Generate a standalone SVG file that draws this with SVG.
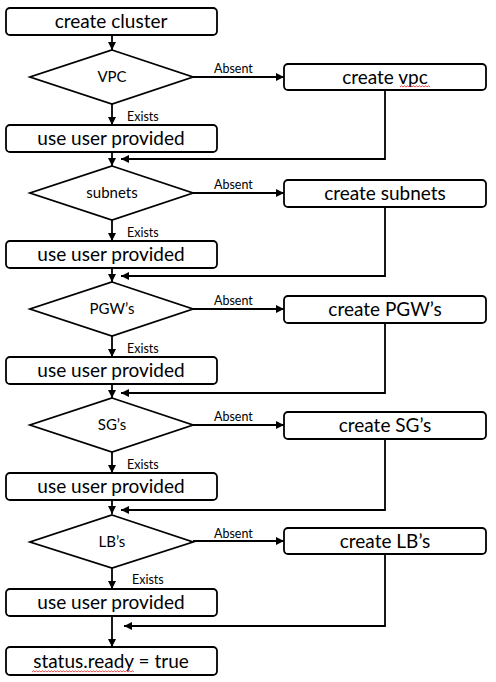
<svg xmlns="http://www.w3.org/2000/svg" width="496" height="682" viewBox="0 0 496 682">
<style>
.box{fill:#fff;stroke:#000;stroke-width:1.8}
.ln{fill:none;stroke:#000;stroke-width:1.8}
.t{font-family:Lato,"Open Sans",sans-serif;font-size:19px;fill:#000;text-anchor:middle}
.d{font-family:Lato,"Open Sans",sans-serif;font-size:15px;fill:#000;text-anchor:middle}
.s{font-family:Lato,"Open Sans",sans-serif;font-size:12.5px;fill:#000}
.sq{fill:none;stroke:#e02020;stroke-width:0.8}
</style>
<defs>
<marker id="ah" viewBox="0 0 10 10" refX="10" refY="5" markerWidth="9" markerHeight="8" markerUnits="userSpaceOnUse" orient="auto">
<path d="M0,0 L10,5 L0,10 Z" fill="#000"/>
</marker>
</defs>
<g id="connectors">
<path class="ln" d="M112,35 V50" marker-end="url(#ah)"/>
<g id="c0">
<path class="ln" d="M193,77 H284" marker-end="url(#ah)"/>
<path class="ln" d="M112,104 V125" marker-end="url(#ah)"/>
<path class="ln" d="M385,90 V159 H121" marker-end="url(#ah)"/>
<path class="ln" d="M112,152 V166" marker-end="url(#ah)"/>
</g>
<g transform="translate(0,116)">
<path class="ln" d="M193,77 H284" marker-end="url(#ah)"/>
<path class="ln" d="M112,104 V125" marker-end="url(#ah)"/>
<path class="ln" d="M385,90 V160 H121" marker-end="url(#ah)"/>
<path class="ln" d="M112,152 V166" marker-end="url(#ah)"/>
</g>
<g transform="translate(0,232)">
<path class="ln" d="M193,77 H284" marker-end="url(#ah)"/>
<path class="ln" d="M112,104 V125" marker-end="url(#ah)"/>
<path class="ln" d="M385,90 V161 H121" marker-end="url(#ah)"/>
<path class="ln" d="M112,152 V166" marker-end="url(#ah)"/>
</g>
<g transform="translate(0,348)">
<path class="ln" d="M193,77 H284" marker-end="url(#ah)"/>
<path class="ln" d="M112,104 V125" marker-end="url(#ah)"/>
<path class="ln" d="M385,90 V162 H121" marker-end="url(#ah)"/>
<path class="ln" d="M112,152 V166" marker-end="url(#ah)"/>
</g>
<g transform="translate(0,464)">
<path class="ln" d="M193,77 H284" marker-end="url(#ah)"/>
<path class="ln" d="M112,104 V125" marker-end="url(#ah)"/>
<path class="ln" d="M385,90 V162 H124" marker-end="url(#ah)"/>
<path class="ln" d="M112,152 V183" marker-end="url(#ah)"/>
</g>
<g id="edge-labels">
<text class="s" x="214" y="73">Absent</text>
<text class="s" x="127" y="121">Exists</text>
<text class="s" x="214" y="189">Absent</text>
<text class="s" x="127" y="237">Exists</text>
<text class="s" x="214" y="305">Absent</text>
<text class="s" x="127" y="353">Exists</text>
<text class="s" x="214" y="421">Absent</text>
<text class="s" x="127" y="469">Exists</text>
<text class="s" x="214" y="538">Absent</text>
<text class="s" x="132" y="584">Exists</text>
</g>
</g>
<g id="start">
<rect class="box" x="6" y="8" width="211" height="27" rx="4"/>
<text class="t" x="111" y="28">create cluster</text>
</g>
<g id="vpc">
<polygon class="box" points="112,50 193,77 112,104 30,77"/>
<text class="d" x="112" y="82">VPC</text>
</g>
<g id="create-vpc">
<rect class="box" x="284" y="64" width="202" height="26" rx="4"/>
<text class="t" x="385" y="84">create vpc</text>
</g>
<g id="use-vpc">
<rect class="box" x="6" y="125" width="211" height="27" rx="4"/>
<text class="t" x="111" y="145">use user provided</text>
</g>
<g id="subnets">
<polygon class="box" points="112,166 193,193 112,220 30,193"/>
<text class="d" x="112" y="198">subnets</text>
</g>
<g id="create-subnets">
<rect class="box" x="284" y="180" width="202" height="27" rx="4"/>
<text class="t" x="385" y="200">create subnets</text>
</g>
<g id="use-subnets">
<rect class="box" x="6" y="241" width="211" height="27" rx="4"/>
<text class="t" x="111" y="261">use user provided</text>
</g>
<g id="pgw">
<polygon class="box" points="112,282 193,309 112,336 30,309"/>
<text class="d" x="112" y="314">PGW’s</text>
</g>
<g id="create-pgw">
<rect class="box" x="284" y="296" width="202" height="27" rx="4"/>
<text class="t" x="385" y="316">create PGW’s</text>
</g>
<g id="use-pgw">
<rect class="box" x="6" y="357" width="211" height="27" rx="4"/>
<text class="t" x="111" y="377">use user provided</text>
</g>
<g id="sg">
<polygon class="box" points="112,398 193,425 112,452 30,425"/>
<text class="d" x="112" y="430">SG’s</text>
</g>
<g id="create-sg">
<rect class="box" x="284" y="412" width="202" height="27" rx="4"/>
<text class="t" x="385" y="432">create SG’s</text>
</g>
<g id="use-sg">
<rect class="box" x="6" y="473" width="211" height="27" rx="4"/>
<text class="t" x="111" y="493">use user provided</text>
</g>
<g id="lb">
<polygon class="box" points="112,515 193,542 112,568 30,542"/>
<text class="d" x="112" y="547">LB’s</text>
</g>
<g id="create-lb">
<rect class="box" x="284" y="528" width="202" height="26" rx="4"/>
<text class="t" x="385" y="548">create LB’s</text>
</g>
<g id="use-lb">
<rect class="box" x="6" y="589" width="211" height="27" rx="4"/>
<text class="t" x="111" y="609">use user provided</text>
</g>
<g id="ready">
<rect class="box" x="6" y="647" width="211" height="28" rx="4"/>
<text class="t" x="111" y="668">status.ready = true</text>
</g>
<g id="spellcheck">
<path class="sq" d="M400,87 l1.5,-1.2 l1.5,1.2 l1.5,-1.2 l1.5,1.2 l1.5,-1.2 l1.5,1.2 l1.5,-1.2 l1.5,1.2 l1.5,-1.2 l1.5,1.2 l1.5,-1.2 l1.5,1.2 l1.5,-1.2 l1.5,1.2 l1.5,-1.2 l1.5,1.2 l1.5,-1.2 l1.5,1.2 l1.5,-1.2 l1.5,1.2"/>
<path class="sq" d="M32,672 l1.5,-1.2 l1.5,1.2 l1.5,-1.2 l1.5,1.2 l1.5,-1.2 l1.5,1.2 l1.5,-1.2 l1.5,1.2 l1.5,-1.2 l1.5,1.2 l1.5,-1.2 l1.5,1.2 l1.5,-1.2 l1.5,1.2 l1.5,-1.2 l1.5,1.2 l1.5,-1.2 l1.5,1.2 l1.5,-1.2 l1.5,1.2 l1.5,-1.2 l1.5,1.2 l1.5,-1.2 l1.5,1.2 l1.5,-1.2 l1.5,1.2 l1.5,-1.2 l1.5,1.2 l1.5,-1.2 l1.5,1.2 l1.5,-1.2 l1.5,1.2 l1.5,-1.2 l1.5,1.2 l1.5,-1.2 l1.5,1.2 l1.5,-1.2 l1.5,1.2 l1.5,-1.2 l1.5,1.2 l1.5,-1.2 l1.5,1.2 l1.5,-1.2 l1.5,1.2 l1.5,-1.2 l1.5,1.2 l1.5,-1.2 l1.5,1.2 l1.5,-1.2 l1.5,1.2 l1.5,-1.2 l1.5,1.2 l1.5,-1.2 l1.5,1.2 l1.5,-1.2 l1.5,1.2 l1.5,-1.2 l1.5,1.2 l1.5,-1.2 l1.5,1.2 l1.5,-1.2 l1.5,1.2 l1.5,-1.2 l1.5,1.2 l1.5,-1.2 l1.5,1.2 l1.5,-1.2 l1.5,1.2"/>
</g>
</svg>
